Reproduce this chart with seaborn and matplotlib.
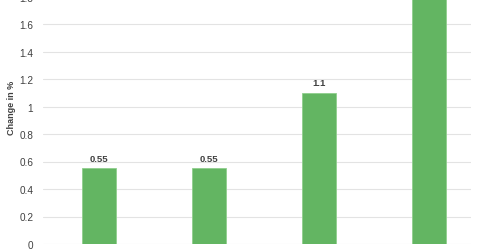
import matplotlib
matplotlib.use("Agg")
import matplotlib.pyplot as plt
import seaborn as sns
import pandas as pd

categories = ["Q1", "Q2", "Q3", "Q4"]
values = [0.55, 0.55, 1.1, 1.9]
labels = ["0.55", "0.55", "1.1", "1.9"]
yticks = [0, 0.2, 0.4, 0.6, 0.8, 1.0, 1.2, 1.4, 1.6, 1.8]
ytick_labels = ["0", "0.2", "0.4", "0.6", "0.8", "1", "1.2", "1.4", "1.6", "1.8"]

df = pd.DataFrame({"cat": categories, "val": values})

sns.set_theme(style="white")
plt.rcParams["font.family"] = ["Liberation Sans", "DejaVu Sans"]

fig = plt.figure(figsize=(4.8, 2.51), dpi=100)
ax = fig.add_axes([43/480, 6/251, 428/480, 275/251])

sns.barplot(data=df, x="cat", y="val", color="#63b562", saturation=1,
            width=0.31, edgecolor="#8fcf8d", linewidth=0.6, ax=ax, zorder=3)

ax.set_ylim(0, 2.0)
ax.set_xlim(-0.506, 3.385)
ax.set_yticks(yticks)
ax.set_yticklabels(ytick_labels, fontsize=7.2, color="#404040")
ax.set_xticks([])
ax.set_xlabel("")
ax.set_ylabel("Change in %", fontsize=6.5, fontweight="bold", color="#404040")
ax.yaxis.set_label_coords(-0.062, (137/275))
ax.grid(axis="y", color="#e3e3e3", linewidth=0.8, zorder=0)
ax.tick_params(axis="y", length=0, pad=7)
for s in ax.spines.values():
    s.set_visible(False)

for i, (v, t) in enumerate(zip(values, labels)):
    ax.text(i, v + 0.04, t, ha="center", va="bottom", fontsize=6.8,
            fontweight="bold", color="#404040")

fig.savefig("out.png", dpi=100)
